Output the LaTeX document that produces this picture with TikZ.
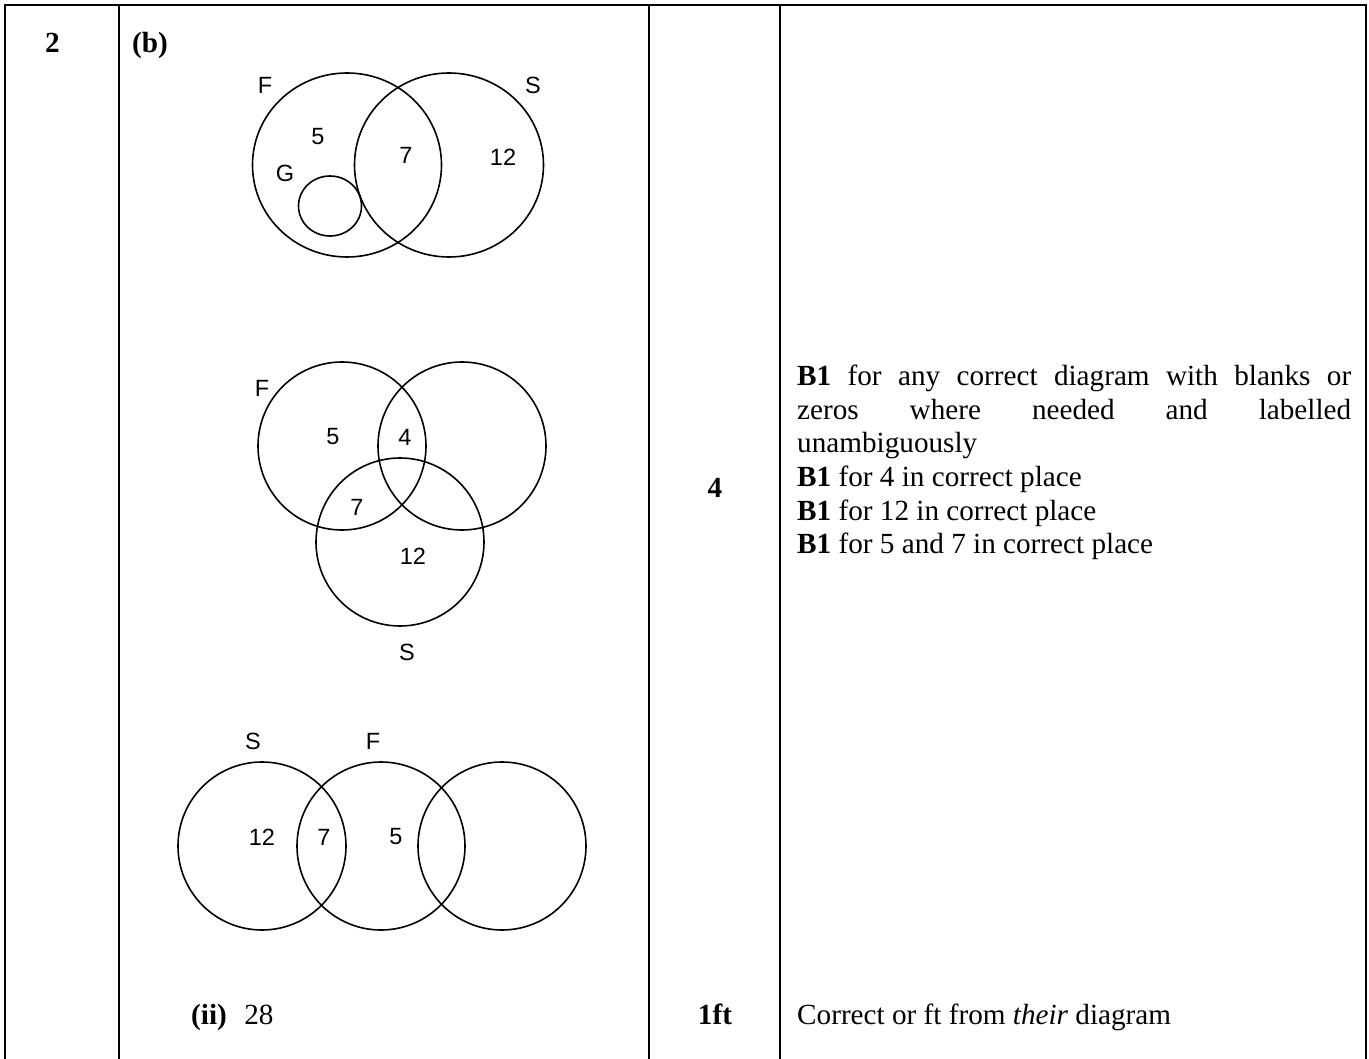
\documentclass[tikz,border=0pt]{standalone}
\usepackage{fontspec}
\setmainfont{Liberation Serif}
\newfontfamily\arialf{Liberation Sans}
\begin{document}
\begin{tikzpicture}[x=1pt,y=-1pt,
  rule/.style={line width=2.8pt},
  venn/.style={line width=1.6pt},
  vlab/.style={font=\arialf\fontsize{23.5}{28}\selectfont, inner sep=0pt, anchor=center},
  tbl/.style={font=\fontsize{29.2}{33.5}\selectfont, inner sep=0pt, anchor=base west},
  tblc/.style={font=\fontsize{29.2}{33.5}\selectfont, inner sep=0pt, anchor=base},
]
\useasboundingbox (0,0) rectangle (1369,1059);
\fill[white] (0,0) rectangle (1369,1059);
% table rules
\draw[rule] (5,1059) -- (5,5) -- (1366,5) -- (1366,1059);
\draw[rule] (119,5) -- (119,1059);
\draw[rule] (649,5) -- (649,1059);
\draw[rule] (780,5) -- (780,1059);
% header texts
\node[tblc] (qnum) at (52.5,53) {\textbf{2}};
\node[tbl] (partb) at (132,53) {\textbf{(b)}};
% top Venn
\draw[venn] (347,165) ellipse [x radius=94.5pt, y radius=92pt];
\draw[venn] (449,165) ellipse [x radius=94.5pt, y radius=92pt];
\draw[venn] (330,206) ellipse [x radius=31.5pt, y radius=30pt];
\node[vlab] (t-F) at (265,85) {F};
\node[vlab] (t-S) at (533,85) {S};
\node[vlab] (t-5) at (318,137) {5};
\node[vlab] (t-7) at (406,155) {7};
\node[vlab] (t-12) at (503,157) {12};
\node[vlab] (t-G) at (285,173) {G};
% middle Venn
\draw[venn] (342,446) circle [radius=84pt];
\draw[venn] (462,446) circle [radius=84pt];
\draw[venn] (400,542) circle [radius=84pt];
\node[vlab] (m-F) at (262,388) {F};
\node[vlab] (m-5) at (333,437) {5};
\node[vlab] (m-4) at (405,437) {4};
\node[vlab] (m-7) at (357,507) {7};
\node[vlab] (m-12) at (413,556) {12};
\node[vlab] (m-S) at (407,652) {S};
% bottom Venn
\draw[venn] (262,846) circle [radius=84pt];
\draw[venn] (381,846) circle [radius=84pt];
\draw[venn] (502,846) circle [radius=84pt];
\node[vlab] (b-S) at (253,741) {S};
\node[vlab] (b-F) at (373,741) {F};
\node[vlab] (b-12) at (262,837) {12};
\node[vlab] (b-7) at (324,837) {7};
\node[vlab] (b-5) at (396,837) {5};
% part (ii)
\node[tbl] (partii) at (191,1024) {\textbf{(ii)}\hspace{0.6em}28};
% marks
\node[tblc] (mark4) at (715,497) {\textbf{4}};
\node[tblc] (mark1ft) at (715,1024) {\textbf{1ft}};
% guidance
\node[tbl] (g1) at (797,386) {\makebox[554pt][s]{\textbf{B1} for any correct diagram with blanks or}};
\node[tbl] (g2) at (797,419.5) {\makebox[554pt][s]{zeros where needed and labelled}};
\node[tbl] (g3) at (797,453) {unambiguously};
\node[tbl] (g4) at (797,486.5) {\textbf{B1} for 4 in correct place};
\node[tbl] (g5) at (797,520) {\textbf{B1} for 12 in correct place};
\node[tbl] (g6) at (797,553.5) {\textbf{B1} for 5 and 7 in correct place};
\node[tbl] (g7) at (797,1024) {Correct or ft from \textit{their} diagram};
\end{tikzpicture}
\end{document}
